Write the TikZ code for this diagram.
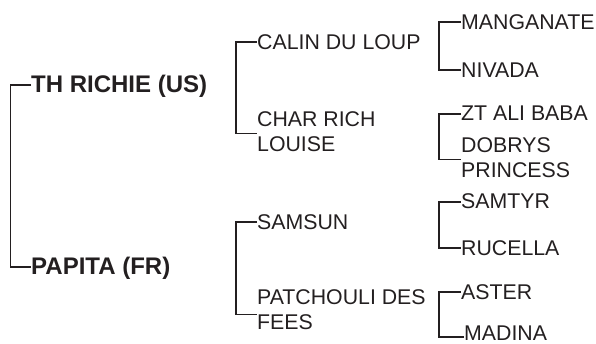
\documentclass[tikz,border=0pt]{standalone}
\usepackage{fontspec}
\setmainfont{Liberation Sans}
\usepackage{tikz}
\definecolor{PedInk}{RGB}{35,31,32}

\begin{document}
\begin{tikzpicture}[x=1pt, y=-1pt, every node/.style={text=PedInk}]
    \tikzstyle{sire}=[anchor=west, inner sep=0pt, text depth=0pt, font=\fontsize{24}{28}\selectfont\bfseries]
    \tikzstyle{horse}=[anchor=west, inner sep=0pt, text depth=0pt, font=\fontsize{21.3}{24.5}\selectfont]
    \tikzstyle{horsetwo}=[anchor=north west, inner sep=0pt, align=left, font=\fontsize{21.3}{24.5}\selectfont]
    \tikzstyle{link}=[draw=PedInk, line width=1.6pt]
    \useasboundingbox (0,0) rectangle (596,344);

    % first generation
    \node[sire] (richie) at (31,84) {TH RICHIE (US)};
    \node[sire] (papita) at (31,266) {PAPITA (FR)};

    % second generation
    \node[horse] (calin) at (257,42) {CALIN DU LOUP};
    \node[horsetwo] (charrich) at (257,111.5) {CHAR RICH\\LOUISE};
    \node[horse] (samsun) at (257,222) {SAMSUN};
    \node[horsetwo] (patchouli) at (257,289.5) {PATCHOULI DES\\FEES};

    % third generation
    \node[horse] (manganate) at (461,22) {MANGANATE};
    \node[horse] (nivada) at (461,70) {NIVADA};
    \node[horse] (ztali) at (461,113) {ZT ALI BABA};
    \node[horsetwo] (dobrys) at (461,137.5) {DOBRYS\\PRINCESS};
    \node[horse] (samtyr) at (461,201) {SAMTYR};
    \node[horse] (rucella) at (461,248) {RUCELLA};
    \node[horse] (aster) at (461,292) {ASTER};
    \node[horse] (madina) at (464,333) {MADINA};

    % brackets
    \draw[link] ([yshift=-1pt]richie.west) -- ++(-20.5,0) |- ([yshift=-1pt]papita.west);
    \draw[link] (calin.west) -- ++(-21,0) |- ([yshift=-2pt]charrich.west);
    \draw[link] (samsun.west) -- ++(-21,0) |- ([yshift=-5pt]patchouli.west);
    \draw[link] (manganate.west) -- ++(-22,0) |- (nivada.west);
    \draw[link] ([yshift=-1pt]ztali.west) -- ++(-22,0) |- ([yshift=-2pt]dobrys.west);
    \draw[link] ([yshift=-1pt]samtyr.west) -- ++(-22,0) |- (rucella.west);
    \draw[link] (aster.west) -- ++(-22,0) |- ([yshift=-4pt]madina.west);
\end{tikzpicture}
\end{document}
